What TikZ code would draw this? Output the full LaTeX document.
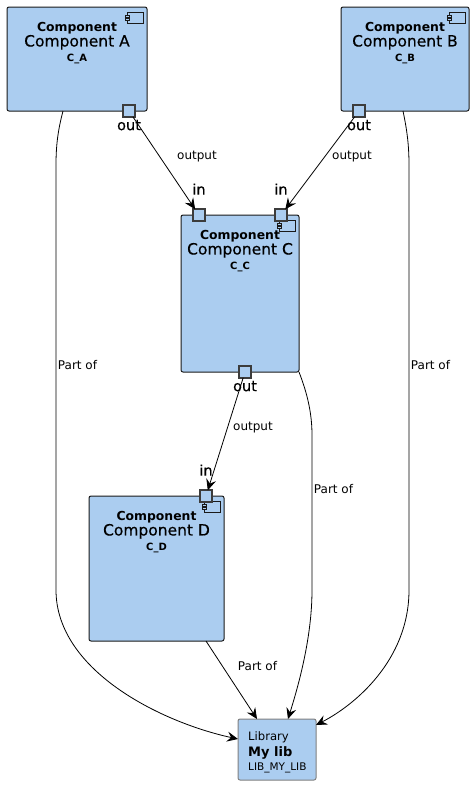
\documentclass[tikz,border=0pt]{standalone}
\usepackage{fontspec}
\setmainfont{DejaVu Sans}
\newfontfamily\heavyfont[FakeBold=0.35]{DejaVu Sans}
\usetikzlibrary{arrows.meta,positioning}
\definecolor{compblue}{HTML}{ABCDF0}
\definecolor{compline}{HTML}{1A1A1A}
\definecolor{portline}{HTML}{3C3C3C}
\newcommand{\comptitle}[2]{{\fontsize{12.4}{16}\selectfont\bfseries Component}\\[-0.5pt]
  {\heavyfont\fontsize{15.5}{16}\selectfont #1}\\[3.5pt]
  {\fontsize{10}{13}\selectfont\bfseries #2}}

\begin{document}
\begin{tikzpicture}[
  x=1pt, y=-1pt,
  comp/.style={rectangle, draw=compline, line width=1pt, rounded corners=2pt,
               fill=compblue, inner sep=0pt, outer sep=0pt},
  lib/.style={rectangle, draw=gray, line width=1pt, rounded corners=2pt,
              fill=compblue, inner sep=0pt, outer sep=0pt,
              minimum width=78pt, minimum height=61pt},
  comptext/.style={align=center, inner sep=0pt},
  port/.style={rectangle, draw=portline, line width=1.6pt, fill=compblue,
               minimum size=11.5pt, inner sep=0pt, outer sep=0pt},
  portname/.style={font=\heavyfont\fontsize{14.5}{16}\selectfont, inner sep=0pt},
  edgelabel/.style={font=\fontsize{12}{14}\selectfont, inner sep=0pt},
  wire/.style={-{Stealth[length=11pt, width=10pt, inset=4pt]}, line width=0.8pt},
  icon/.pic={
    \draw[compline, line width=0.6pt] (-20,5) rectangle (-4,16);
    \draw[compline, line width=0.6pt, fill=compblue] (-22,8) rectangle (-18,10);
    \draw[compline, line width=0.6pt, fill=compblue] (-22,11) rectangle (-18,13);
  },
]
\useasboundingbox (0,0) rectangle (474,785);

% Components
\node[comp, minimum width=140pt, minimum height=104pt] (compA) at (77,59) {};
\node[comp, minimum width=128pt, minimum height=104pt, right=194pt of compA] (compB) {};
\node[comp, minimum width=118pt, minimum height=157pt, below right=104pt and 34pt of compA.south east] (compC) {};
\node[comp, minimum width=135pt, minimum height=145pt, below left=124pt and -43pt of compC.south west] (compD) {};

% Library
\node[lib, below right=78pt and 14pt of compD.south east] (mylib) {};

% Icons
\pic at (compA.north east) {icon};
\pic at (compB.north east) {icon};
\pic at (compC.north east) {icon};
\pic at (compD.north east) {icon};

% Texts inside the boxes
\node[comptext, below=15.5pt of compA.north] (textA) {\comptitle{Component A}{C\_A}};
\node[comptext, below=15.5pt of compB.north] (textB) {\comptitle{Component B}{C\_B}};
\node[comptext, below=15.5pt of compC.north] (textC) {\comptitle{Component C}{C\_C}};
\node[comptext, below=15.5pt of compD.north] (textD) {\comptitle{Component D}{C\_D}};
\node[align=left, inner sep=0pt, right=10pt of mylib.west, yshift=-2.5pt] (textLib)
  {{\fontsize{11.6}{15}\selectfont Library}\\[3pt]
   {\fontsize{13}{15}\selectfont\bfseries My lib}\\[2pt]
   {\fontsize{10.5}{14}\selectfont LIB\_MY\_LIB}};

% Ports
\node[port, xshift=-18pt] (outA) at (compA.south east) {};
\node[port, xshift=-46pt] (outB) at (compB.south) {};
\node[port, xshift=5pt] (outC) at (compC.south) {};
\node[port, xshift=18pt] (inC1) at (compC.north west) {};
\node[port, xshift=-18pt] (inC2) at (compC.north east) {};
\node[port, xshift=-18pt] (inD) at (compD.north east) {};

% Port names
\node[portname, below=3pt of outA] (nameOutA) {out};
\node[portname, below=3pt of outB] (nameOutB) {out};
\node[portname, below=3pt of outC] (nameOutC) {out};
\node[portname, above=14.5pt of inC1] (nameInC1) {in};
\node[portname, above=14.5pt of inC2] (nameInC2) {in};
\node[portname, above=14.5pt of inD] (nameInD) {in};

% Connections
\draw[wire] (outA) -- (inC1);
\draw[wire] (outB) -- (inC2);
\draw[wire] (outC) -- (inD);
\draw[wire] ([xshift=-14pt]compA.south) .. controls (58,130) and (56,145) .. (56,165)
  -- (56,590) .. controls (56,670) and (160,722) .. ([yshift=10.5pt]mylib.west);
\draw[wire] ([xshift=-2pt]compB.south) .. controls (407,130) and (409,145) .. (409,165)
  -- (409,590) .. controls (409,660) and (355,705) .. ([yshift=-6pt]mylib.north east);
\draw[wire] (compC.south east) .. controls (308,395) and (312,415) .. (312,435)
  -- (312,590) .. controls (312,640) and (297,690) .. ([xshift=11pt]mylib.north);
\draw[wire] ([xshift=-18pt]compD.south east) -- ([xshift=-20pt]mylib.north);

% Connection labels
\node[edgelabel] (lblA) at (197,157) {output};
\node[edgelabel] (lblB) at (352,157) {output};
\node[edgelabel] (lblC) at (253,428) {output};
\node[edgelabel] (lblPartA) at (77.5,365) {Part of};
\node[edgelabel] (lblPartB) at (430.5,365) {Part of};
\node[edgelabel] (lblPartC) at (333.5,489) {Part of};
\node[edgelabel] (lblPartD) at (257.5,666) {Part of};

\end{tikzpicture}
\end{document}
